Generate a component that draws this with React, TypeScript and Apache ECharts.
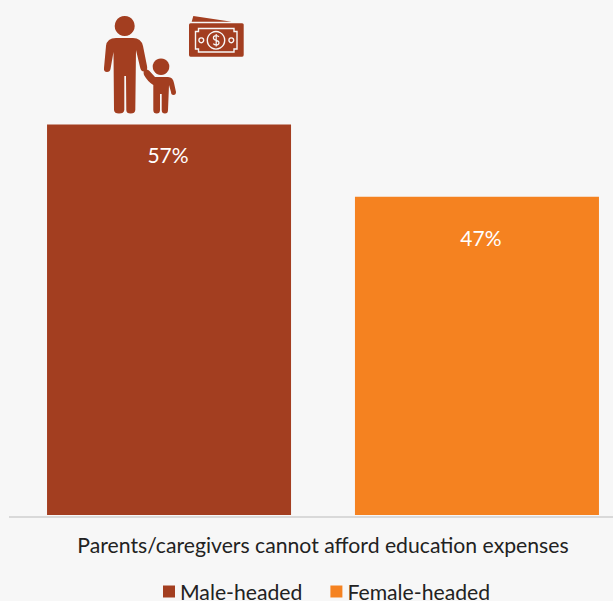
import React, { useEffect, useRef } from "react";
import * as echarts from "echarts";

const categories = ["Parents/caregivers cannot afford education expenses"];
const maleHeaded = [57.3];
const femaleHeaded = [46.7];
const seriesNames = ["Male-headed", "Female-headed"];
const BG = "#f7f7f7";
const BROWN = "#a33e20";
const ORANGE = "#f58220";
const AXIS = "#d9d9d9";

const adultD = "M116 38 L133 38 Q141 38 143 46 L147 66 Q148 71 144.5 71.5 Q141 72 140 67 L136 50 L135.3 110 Q135 113.5 130.7 113.5 Q126.3 113.5 126.3 110 L126 76 L124.3 76 L124.3 110 Q124 113.5 119 113.5 Q114.3 113.5 114 110 L113.5 52 L110.5 69 Q110 72 107 72 Q103.5 72 104 68 L106 46 Q107 38 116 38 Z";
const childD = "M146 69.5 Q148 69 149.5 71 L155 77 L168 77 Q173 77 174 83 L176 92 Q176 95 173.5 95 Q171 95 171 92 L169 85 L168 110 Q168 113.5 165 113.5 Q161.7 113.5 161.7 110 L161.7 94 L160 94 L160 110 Q160 113.5 156.7 113.5 Q153.3 113.5 153.3 110 L153.3 85 Q148 82 144 75 Q142.5 70.5 146 69.5 Z";
const noteD = "M190.5 23.3 L242.2 23.3 Q243.7 23.3 243.7 24.8 L243.7 55 Q243.7 56.7 242.2 56.7 L190.5 56.7 Q189 56.7 189 55 L189 24.8 Q189 23.3 190.5 23.3 Z";
const frameD = "M198.5 28.5 L234 28.5 L234 31.5 L237 31.5 L237 49 L234 49 L234 52 L198.5 52 L198.5 49 L195.5 49 L195.5 31.5 L198.5 31.5 Z";
const dollarD = "M219 37 Q218 35.6 216.2 35.6 Q213.4 35.6 213.4 37.8 Q213.4 39.8 216.2 40.3 Q219 40.8 219 42.8 Q219 45 216.2 45 Q214.2 45 213.3 43.6 M216.2 34 L216.2 46.6";

echarts.graphic.registerShape("adultIcon", echarts.graphic.extendPath(adultD, {}) as any);
echarts.graphic.registerShape("childIcon", echarts.graphic.extendPath(childD, {}) as any);
echarts.graphic.registerShape("noteIcon", echarts.graphic.extendPath(noteD, {}) as any);
echarts.graphic.registerShape("frameIcon", echarts.graphic.extendPath(frameD, {}) as any);
echarts.graphic.registerShape("dollarIcon", echarts.graphic.extendPath(dollarD, {}) as any);

const barLabel = (distance: number, dx: number) => ({
  show: true,
  position: "insideTop" as const,
  distance,
  offset: [dx, 0],
  color: "#ffffff",
  fontFamily: "Lato",
  fontSize: 21,
  formatter: (p: any) => `${Math.round(p.value)}%`,
});

export default function App() {
  const ref = useRef<HTMLDivElement>(null);
  useEffect(() => {
    document.body.style.margin = "0";
    const chart = echarts.init(ref.current!, undefined, { renderer: "svg" });
    const lineStyle = { fill: "none", stroke: BG, lineWidth: 1.4 };
    chart.setOption({
      animation: false,
      backgroundColor: BG,
      grid: { left: 33, top: 106, width: 580, height: 409, containLabel: false },
      legend: {
        left: 163,
        top: 581,
        padding: 0,
        itemWidth: 12,
        itemHeight: 12,
        itemGap: 28,
        icon: "rect",
        data: seriesNames,
        textStyle: { fontFamily: "Lato", fontSize: 21.2, color: "#222222" },
      },
      xAxis: {
        type: "category",
        data: categories,
        offset: 2,
        axisLine: { show: true, onZero: false, lineStyle: { color: AXIS, width: 2 } },
        axisTick: { show: false },
        axisLabel: { margin: 17, interval: 0, fontFamily: "Lato", fontSize: 21.2, color: "#222222" },
      },
      yAxis: { type: "value", min: 0, max: 60, show: false },
      series: [
        { type: "bar", name: seriesNames[0], data: maleHeaded, barWidth: 244, barGap: "26.2%", itemStyle: { color: BROWN }, label: barLabel(20, -1) },
        { type: "bar", name: seriesNames[1], data: femaleHeaded, barWidth: 244, itemStyle: { color: ORANGE }, label: barLabel(30, 4) },
      ],
      graphic: [
        { type: "line", shape: { x1: 9, y1: 517, x2: 34, y2: 517 }, style: { stroke: AXIS, lineWidth: 2 } },
        { type: "circle", shape: { cx: 124.7, cy: 26, r: 10 }, style: { fill: BROWN } },
        { type: "adultIcon", x: 0, y: 0, style: { fill: BROWN } },
        { type: "circle", shape: { cx: 161, cy: 66.7, r: 8.3 }, style: { fill: BROWN } },
        { type: "childIcon", x: 0, y: 0, style: { fill: BROWN } },
        { type: "polygon", shape: { points: [[191.7, 21.7], [193.3, 16], [231.7, 21.7]] }, style: { fill: BROWN } },
        { type: "noteIcon", x: 0, y: 0, style: { fill: BROWN } },
        { type: "frameIcon", x: 0, y: 0, style: lineStyle },
        { type: "circle", shape: { cx: 216, cy: 40.3, r: 8.7 }, style: lineStyle },
        { type: "circle", shape: { cx: 201.3, cy: 40.3, r: 2.4 }, style: lineStyle },
        { type: "circle", shape: { cx: 231.3, cy: 40.3, r: 2.4 }, style: lineStyle },
        { type: "dollarIcon", x: 0, y: 0, style: { fill: "none", stroke: BG, lineWidth: 1.2 } },
      ],
    });
    return () => chart.dispose();
  }, []);
  return <div ref={ref} style={{ width: 613, height: 601 }} />;
}
